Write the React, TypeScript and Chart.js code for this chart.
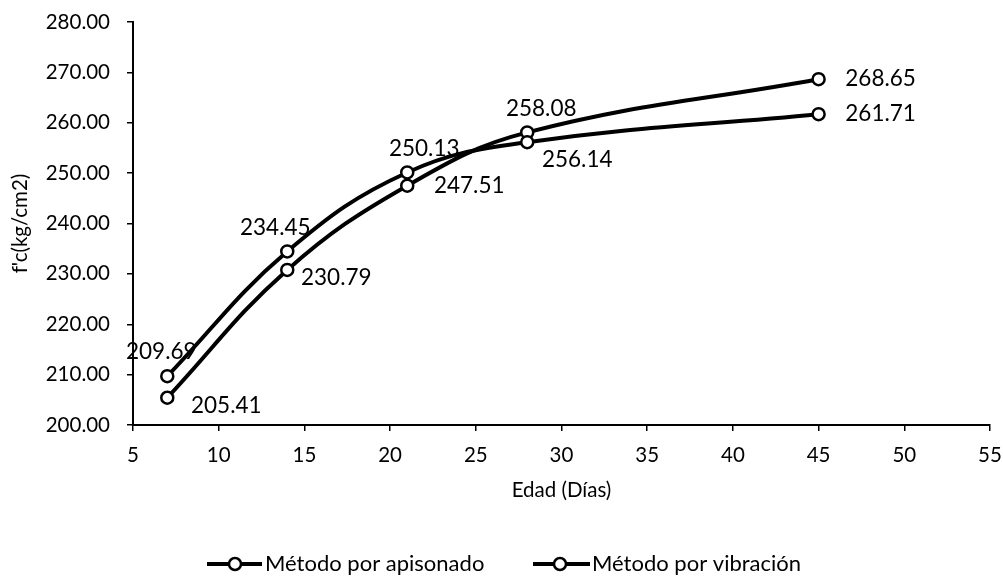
import React, { useEffect, useRef } from "react";
import { Chart, registerables } from "chart.js";

Chart.register(...registerables);

const ages = [7, 14, 21, 28, 45];
const apisonado = [209.69, 234.45, 250.13, 256.14, 261.71];
const vibracion = [205.41, 230.79, 247.51, 258.08, 268.65];
const seriesNames = ["Método por apisonado", "Método por vibración"];
const xTickMin = 5;
const xTickMax = 55;
const yTickMin = 200;
const yTickMax = 280;

// label offsets (px) relative to each point
const apisonadoLabelOffsets = [
  [-6, -24],
  [-12, -24],
  [17, -24],
  [50, 18],
  [62, 0],
];
const vibracionLabelOffsets = [
  [59, 8],
  [49, 8],
  [62, 0],
  [14, -24],
  [62, 0],
];

const FONT = "Lato, 'Open Sans', sans-serif";

const labelPlugin = {
  id: "pointLabels",
  afterDatasetsDraw(chart: any) {
    const ctx = chart.ctx;
    const offsets = [apisonadoLabelOffsets, vibracionLabelOffsets];
    ctx.save();
    ctx.font = `22.5px ${FONT}`;
    ctx.fillStyle = "#000";
    ctx.textAlign = "center";
    ctx.textBaseline = "middle";
    chart.data.datasets.forEach((ds: any, di: number) => {
      const meta = chart.getDatasetMeta(di);
      meta.data.forEach((pt: any, i: number) => {
        const v = ds.data[i].y as number;
        const [dx, dy] = offsets[di][i];
        ctx.fillText(v.toFixed(2), pt.x + dx, pt.y + dy);
      });
    });
    ctx.restore();
  },
};

const legendPlugin = {
  id: "customLegend",
  afterDraw(chart: any) {
    const ctx = chart.ctx;
    const items = [
      { x1: 207, x2: 262, cx: 235, tx: 265 },
      { x1: 533, x2: 590, cx: 560, tx: 592 },
    ];
    const y = 564;
    ctx.save();
    items.forEach((it, i) => {
      ctx.strokeStyle = "#000";
      ctx.lineWidth = 4;
      ctx.beginPath();
      ctx.moveTo(it.x1, y);
      ctx.lineTo(it.x2, y);
      ctx.stroke();
      ctx.beginPath();
      ctx.arc(it.cx, y, 6, 0, Math.PI * 2);
      ctx.fillStyle = "#fff";
      ctx.fill();
      ctx.lineWidth = 2.5;
      ctx.stroke();
      ctx.fillStyle = "#000";
      ctx.font = `22px ${FONT}`;
      ctx.textAlign = "left";
      ctx.textBaseline = "middle";
      ctx.fillText(seriesNames[i], it.tx, y);
    });
    ctx.restore();
  },
};

export default function App() {
  const ref = useRef<HTMLCanvasElement | null>(null);
  useEffect(() => {
    if (!ref.current) return;
    const mk = (vals: number[]) => ages.map((x, i) => ({ x, y: vals[i] }));
    const dsStyle = {
      borderColor: "#000",
      borderWidth: 4,
      pointRadius: 6,
      pointBorderWidth: 2.5,
      pointBackgroundColor: "#fff",
      pointBorderColor: "#000",
      tension: 0.4,
      fill: false,
    };
    const chart = new Chart(ref.current, {
      type: "line",
      data: {
        datasets: [
          { label: seriesNames[0], data: mk(apisonado), ...dsStyle },
          { label: seriesNames[1], data: mk(vibracion), ...dsStyle },
        ],
      },
      options: {
        animation: false,
        responsive: false,
        devicePixelRatio: 1,
        layout: { padding: { top: 22, right: 13, left: 0, bottom: 61 } },
        plugins: {
          legend: { display: false },
          tooltip: { enabled: false },
        },
        scales: {
          x: {
            type: "linear",
            min: xTickMin,
            max: xTickMax,
            ticks: {
              stepSize: 5,
              color: "#000",
              font: { family: FONT, size: 20.5 },
              padding: 12,
            },
            grid: {
              drawOnChartArea: false,
              drawTicks: true,
              tickLength: 6,
              color: "#000",
              lineWidth: 1.5,
            },
            border: { color: "#000", width: 2 },
            title: {
              display: true,
              text: "Edad (Días)",
              color: "#000",
              font: { family: FONT, size: 20.5 },
              padding: { top: 8, bottom: 12 },
            },
            afterFit(scale: any) {
              scale.height = 90;
              scale.paddingLeft = 0;
              scale.paddingRight = 0;
            },
          },
          y: {
            min: yTickMin,
            max: yTickMax,
            ticks: {
              stepSize: 10,
              color: "#000",
              font: { family: FONT, size: 20.5 },
              padding: 17,
              callback: (v: any) => Number(v).toFixed(2),
            },
            grid: {
              drawOnChartArea: false,
              drawTicks: true,
              tickLength: 6,
              color: "#000",
              lineWidth: 1.5,
            },
            border: { color: "#000", width: 2 },
            title: {
              display: true,
              text: "f'c(kg/cm2)",
              color: "#000",
              font: { family: FONT, size: 20.5 },
              padding: { top: 8, bottom: 0 },
            },
            afterFit(scale: any) {
              scale.width = 133;
              scale.paddingTop = 0;
              scale.paddingBottom = 0;
            },
          },
        },
      },
      plugins: [labelPlugin, legendPlugin],
    });
    return () => chart.destroy();
  }, []);
  return (
    <div style={{ position: "fixed", left: 0, top: 0, width: 1003, height: 576, background: "#fff" }}>
      <canvas ref={ref} width={1003} height={576} />
    </div>
  );
}
